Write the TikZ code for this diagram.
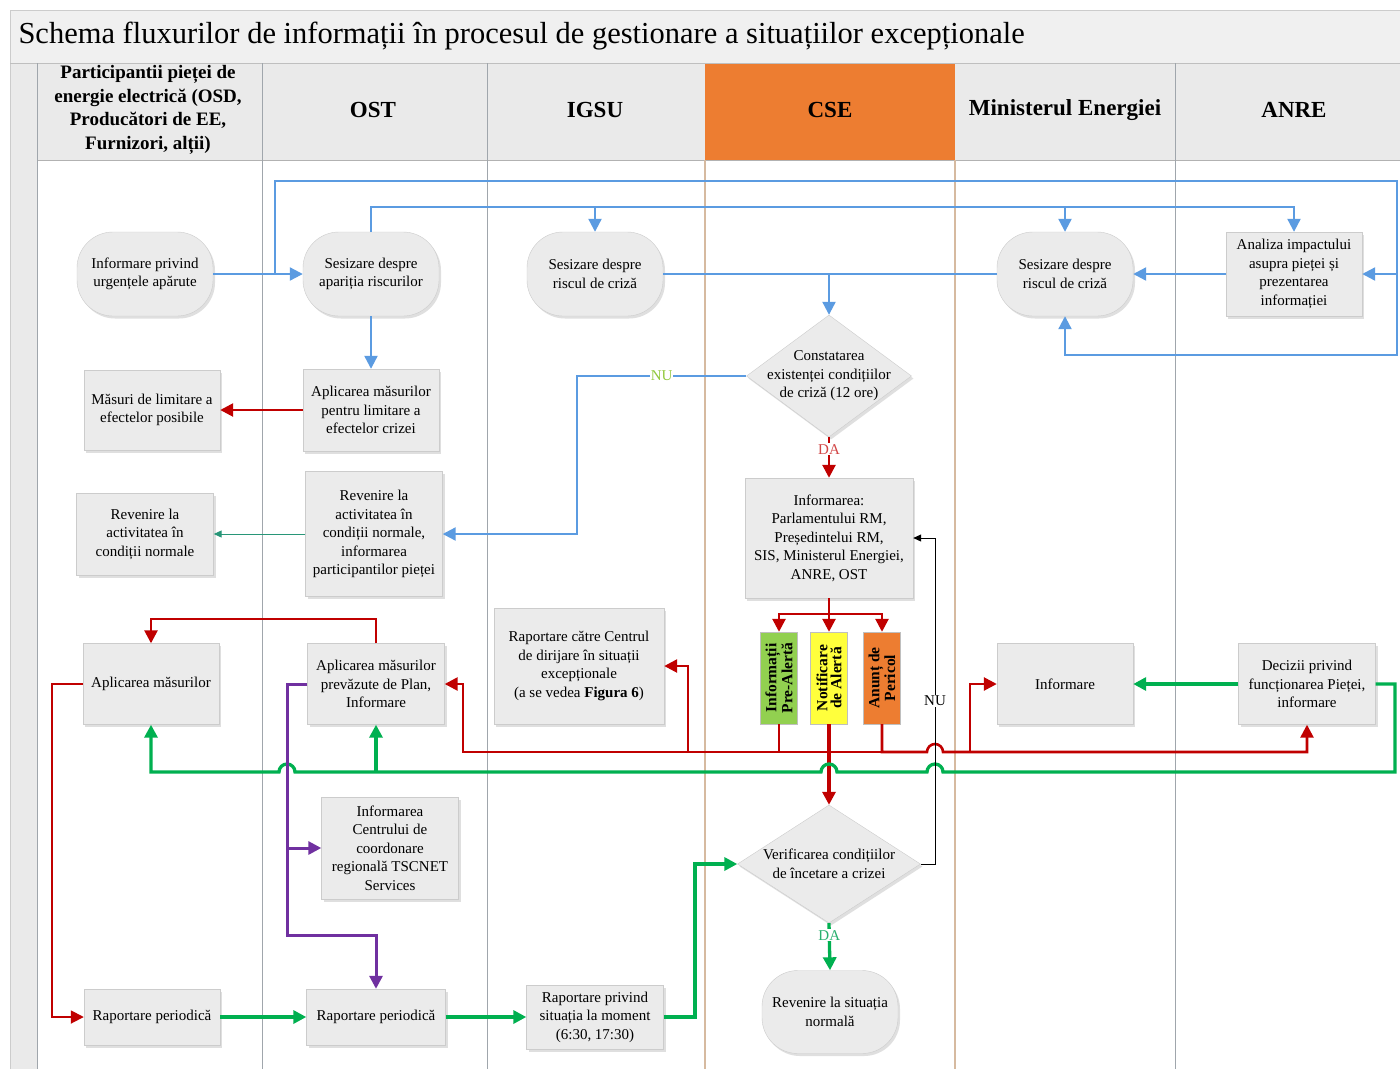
\documentclass[tikz,border=0pt]{standalone}
\usepackage{fontspec}
\setmainfont{Liberation Serif}
\usetikzlibrary{arrows.meta,shapes.geometric,shadows}

\definecolor{boxgray}{RGB}{235,235,235}
\definecolor{hdrgray}{RGB}{234,234,234}
\definecolor{lanegray}{RGB}{160,166,172}
\definecolor{lanetan}{RGB}{214,186,160}
\definecolor{cseorange}{RGB}{237,125,49}
\definecolor{cblue}{RGB}{91,155,225}
\definecolor{cred}{RGB}{192,0,0}
\definecolor{cgreen}{RGB}{0,176,80}
\definecolor{cpurple}{RGB}{112,48,160}
\definecolor{cteal}{RGB}{40,150,120}
\definecolor{nugreen}{RGB}{146,200,60}
\definecolor{dared}{RGB}{210,70,70}
\definecolor{dagreen}{RGB}{40,175,110}
\definecolor{verde}{RGB}{146,208,80}
\definecolor{galben}{RGB}{255,255,60}

\begin{document}
\begin{tikzpicture}[x=1pt,y=-1pt,
  cutie/.style = {rectangle,draw=gray!40,fill=boxgray,align=center,inner sep=2pt,
                  font=\fontsize{15}{18.5}\selectfont,
                  drop shadow={opacity=.25,shadow xshift=2pt,shadow yshift=-2.5pt}},
  term/.style = {cutie,rounded corners=36pt,minimum width=136,minimum height=84},
  romb/.style = {diamond,draw=gray!40,fill=boxgray,inner sep=0pt,
                 drop shadow={opacity=.25,shadow xshift=2pt,shadow yshift=-2.5pt}},
  dtext/.style = {align=center,font=\fontsize{15}{18.5}\selectfont},
  nivel/.style = {rectangle,draw=gray!50,rotate=90,minimum width=92,minimum height=37,
                  inner sep=1pt,align=center,font=\bfseries\fontsize{15.5}{14}\selectfont},
  antet/.style = {align=center,font=\bfseries\fontsize{23}{26}\selectfont},
  lane/.style = {draw=lanegray,line width=0.8pt},
  eticheta/.style = {fill=white,inner sep=1pt,font=\fontsize{15}{15}\selectfont},
  sag/.style = {-{Triangle[length=13pt,width=13pt]}},
  sagm/.style = {-{Triangle[length=8pt,width=7pt]}},
  flb/.style = {draw=cblue,line width=2.2pt},
  flr/.style = {draw=cred,line width=2.6pt},
  flrg/.style = {draw=cred,line width=3.2pt},
  flrs/.style = {draw=cred,line width=1.8pt},
  flv/.style = {draw=cgreen,line width=3.3pt},
  flm/.style = {draw=cpurple,line width=3pt},
  fln/.style = {draw=black,line width=0.9pt},
  flt/.style = {draw=cteal,line width=1pt}]

\useasboundingbox (0,0) rectangle (1400,1069);
\fill[white] (0,0) rectangle (1400,1069);
\fill[hdrgray!70] (10,10) rectangle (1400,63);
\fill[hdrgray] (10,63) rectangle (1400,160);
\fill[hdrgray] (10,160) rectangle (37,1069);
\fill[cseorange] (705,63) rectangle (955,160);
\draw[gray!40] (10,1069) -- (10,10) -- (1400,10);
\draw[gray!50] (10,63) -- (1400,63);
\draw[gray!60,line width=1pt] (37,160) -- (1400,160);
\foreach \x in {37,262,487,1175}
  \draw[lane] (\x,63) -- (\x,1069);
\foreach \x in {705,955}
  \draw[draw=lanetan,line width=1.2pt] (\x,160) -- (\x,1069);

\node[anchor=west,font=\fontsize{30.5}{32}\selectfont] (titlu) at (15,36)
  {Schema fluxurilor de informații în procesul de gestionare a situațiilor excepționale};
\node[antet,font=\bfseries\fontsize{19}{23.5}\selectfont] (hpart) at (148,110)
  {Participantii pieței de\\energie electrică (OSD,\\Producători de EE,\\Furnizori, alții)};
\node[antet] (host) at (373,110) {OST};
\node[antet] (higsu) at (595,110) {IGSU};
\node[antet] (hcse) at (830,110) {CSE};
\node[antet] (hme) at (1065,110) {Ministerul Energiei};
\node[antet] (hanre) at (1294,110) {ANRE};

\node[term] (infu) at (145,274) {Informare privind\\urgențele apărute};
\node[term] (ses1) at (371,274) {Sesizare despre\\apariția riscurilor};
\node[term] (ses2) at (595,274) {Sesizare despre\\riscul de criză};
\node[term] (ses4) at (1065,274) {Sesizare despre\\riscul de criză};
\node[cutie,minimum width=136,minimum height=84] (ana) at (1294,274)
  {Analiza impactului\\asupra pieței și\\prezentarea\\informației};

\node[romb,minimum width=165,minimum height=122,
  label={[dtext]center:Constatarea\\existenței condițiilor\\de criză (12 ore)}] (d1) at (829,376) {};

\node[cutie,minimum width=136,minimum height=82] (aplr) at (371,410)
  {Aplicarea măsurilor\\pentru limitare a\\efectelor crizei};
\node[cutie,minimum width=136,minimum height=80] (mas) at (152,410)
  {Măsuri de limitare a\\efectelor posibile};
\node[cutie,minimum width=137,minimum height=125] (revo) at (374,534)
  {Revenire la\\activitatea în\\condiții normale,\\informarea\\participantilor pieței};
\node[cutie,minimum width=137,minimum height=82] (revp) at (145,534)
  {Revenire la\\activitatea în\\condiții normale};
\node[cutie,minimum width=168,minimum height=120] (inf) at (829,538)
  {Informarea:\\Parlamentului RM,\\Președintelui RM,\\SIS, Ministerul Energiei,\\ANRE, OST};

\node[cutie,minimum width=170,minimum height=116] (rap) at (579,666)
  {Raportare către Centrul\\de dirijare în situații\\excepționale\\(a se vedea \textbf{Figura 6})};
\node[cutie,minimum width=136,minimum height=81] (aplm) at (151,684) {Aplicarea măsurilor};
\node[cutie,minimum width=137,minimum height=81] (aplp) at (376,684)
  {Aplicarea măsurilor\\prevăzute de Plan,\\Informare};
\node[cutie,minimum width=136,minimum height=81] (infme) at (1065,684) {Informare};
\node[cutie,minimum width=137,minimum height=81] (dec) at (1307,684)
  {Decizii privind\\funcționarea Pieței,\\informare};

\node[nivel,fill=verde] (pre) at (779,678) {Informații\\Pre-Alertă};
\node[nivel,fill=galben] (not) at (829,678) {Notificare\\de Alertă};
\node[nivel,fill=cseorange] (per) at (882,678) {Anunț de\\Pericol};

\node[cutie,minimum width=137,minimum height=102] (infc) at (390,848)
  {Informarea\\Centrului de\\coordonare\\regională TSCNET\\Services};
\node[romb,minimum width=183,minimum height=118,
  label={[dtext]center:Verificarea condițiilor\\de încetare a crizei}] (d2) at (829,864) {};

\node[cutie,minimum width=136,minimum height=56] (rpp) at (152,1017) {Raportare periodică};
\node[cutie,minimum width=139,minimum height=56] (rpo) at (376,1017) {Raportare periodică};
\node[cutie,minimum width=137,minimum height=64] (rpm) at (595,1017)
  {Raportare privind\\situația la moment\\(6:30, 17:30)};
\node[term,minimum height=83] (norm) at (830,1012) {Revenire la situația\\normală};

% fluxuri albastre
\draw[flb,sag] (infu.east) -- (ses1.west);
\draw[flb,sag] (275,274) |- (1397,181) -- (1397,355) -| (ses4.south);
\draw[flb,sag] (1397,274) -- (ana.east);
\draw[flb,sag] (ses1.north) |- (1294,207) -- (ana.north);
\draw[flb,sag] (595,207) -- (ses2.north);
\draw[flb,sag] (1065,207) -- (ses4.north);
\draw[flb] (ses2.east) -- (ses4.west);
\draw[flb,sag] (829,274) -- (d1.north);
\draw[flb,sag] (ana.west) -- (ses4.east);
\draw[flb,sag] (ses1.south) -- (aplr.north);
\draw[flb,sag] (d1.west) -- node[eticheta,text=nugreen]{NU} (577,376) |- (revo.east);

% fluxuri rosii
\draw[flr,sag] (aplr.west) -- (mas.east);
\draw[flr,sag] (d1.south) -- node[eticheta,pos=.3,text=dared]{DA} (inf.north);
\draw[flr] (inf.south) -- (829,614);
\draw[flr,sag] (829,614) -| (pre.east);
\draw[flr,sag] (829,614) -| (per.east);
\draw[flr,sag] (829,614) -- (not.east);
\draw[flr,sag] (pre.west) |- (463,752) |- (aplp.east);
\draw[flr] (779,752) -- (882,752);
\draw[flr,sag] (688,752) |- (rap.east);
\draw[flr,sag] (per.west) |- (927,752) arc (180:0:8pt) -- (1307,752) -- (dec.south);
\draw[flr,sag] (970,752) |- (infme.west);
\draw[flrg,sag] (not.west) -- (d2.north);
\draw[flr,sag] (aplp.north) |- (151,619) -- (aplm.north);
\draw[flrs,sag] (aplm.west) -- (52,684) |- (rpp.west);

% fluxuri verzi
\draw[flv,sag] (dec.east) -- (1395,684) |- (943,772) arc (0:180:8pt) -- (837,772)
  arc (0:180:8pt) -- (295,772) arc (0:180:8pt) -- (151,772) -- (aplm.south);
\draw[flv,sag] (376,772) -- (aplp.south);
\draw[flv,sag] (dec.west) -- (infme.east);
\draw[flv,sag] (rpp.east) -- (rpo.west);
\draw[flv,sag] (rpo.east) -- (rpm.west);
\draw[flv,sag] (rpm.east) -- (695,1017) |- (d2.west);
\draw[flv,sag] (d2.south) -- node[eticheta,pos=.26,text=dagreen]{DA} (norm.north);

% fluxuri violet
\draw[flm,sag] (aplp.west) -- (287,684) |- (376,935) -- (rpo.north);
\draw[flm,sag] (287,848) -- (infc.west);

\draw[fln,sagm] (d2.east) -- (935,864) -- node[eticheta]{NU} (935,538) -- (inf.east);
\draw[flt,sagm] (revo.west) -- (revp.east);
\end{tikzpicture}
\end{document}
